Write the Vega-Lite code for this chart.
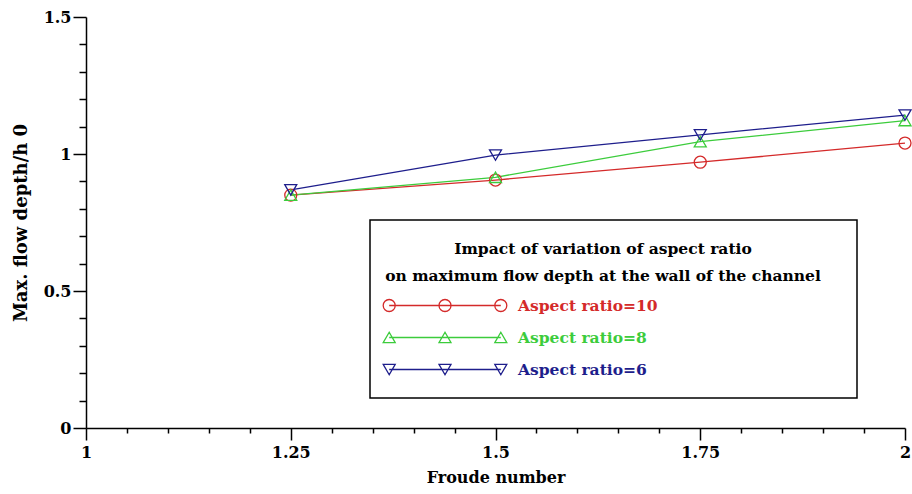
{
  "$schema": "https://vega.github.io/schema/vega-lite/v6.json",
  "width": 819,
  "height": 411,
  "autosize": {"type": "none"},
  "padding": {"left": 86, "top": 17, "right": 7, "bottom": 66},
  "background": "white",
  "config": {
    "font": "DejaVu Serif",
    "view": {"stroke": null},
    "axis": {
      "grid": false,
      "domainColor": "black",
      "domainWidth": 1.5,
      "tickColor": "black",
      "tickWidth": 1.5,
      "labelFont": "DejaVu Serif",
      "labelFontWeight": "bold",
      "labelFontSize": 16,
      "labelColor": "black",
      "titleFont": "DejaVu Serif",
      "titleFontWeight": "bold",
      "titleColor": "black"
    }
  },
  "data": {
    "values": [
      {"series": "Aspect ratio=10", "froude": 1.25, "depth": 0.85},
      {"series": "Aspect ratio=10", "froude": 1.5, "depth": 0.905},
      {"series": "Aspect ratio=10", "froude": 1.75, "depth": 0.97},
      {"series": "Aspect ratio=10", "froude": 2.0, "depth": 1.04},
      {"series": "Aspect ratio=8", "froude": 1.25, "depth": 0.85},
      {"series": "Aspect ratio=8", "froude": 1.5, "depth": 0.915},
      {"series": "Aspect ratio=8", "froude": 1.75, "depth": 1.045},
      {"series": "Aspect ratio=8", "froude": 2.0, "depth": 1.122},
      {"series": "Aspect ratio=6", "froude": 1.25, "depth": 0.869},
      {"series": "Aspect ratio=6", "froude": 1.5, "depth": 0.996},
      {"series": "Aspect ratio=6", "froude": 1.75, "depth": 1.07},
      {"series": "Aspect ratio=6", "froude": 2.0, "depth": 1.142}
    ]
  },
  "encoding": {
    "x": {
      "field": "froude",
      "type": "quantitative",
      "scale": {"domain": [1, 2], "nice": false, "zero": false},
      "axis": {
        "title": "Froude number",
        "titleFontSize": 16,
        "titlePadding": 9,
        "values": [1, 1.05, 1.1, 1.15, 1.2, 1.25, 1.3, 1.35, 1.4, 1.45, 1.5, 1.55, 1.6, 1.65, 1.7, 1.75, 1.8, 1.85, 1.9, 1.95, 2],
        "labelExpr": "abs(datum.value*4 - round(datum.value*4)) < 0.001 ? format(datum.value, '~g') : ''",
        "tickSize": {"condition": {"test": "abs(datum.value*4 - round(datum.value*4)) < 0.001", "value": 12}, "value": 5},
        "labelPadding": 4,
        "labelFlush": false,
        "labelOverlap": false
      }
    },
    "y": {
      "field": "depth",
      "type": "quantitative",
      "scale": {"domain": [0, 1.5], "nice": false, "zero": false},
      "axis": {
        "title": "Max. flow depth/h 0",
        "titleFontSize": 18,
        "titlePadding": 13,
        "values": [0, 0.1, 0.2, 0.3, 0.4, 0.5, 0.6, 0.7, 0.8, 0.9, 1, 1.1, 1.2, 1.3, 1.4, 1.5],
        "labelExpr": "abs(datum.value*2 - round(datum.value*2)) < 0.001 ? format(datum.value, '~g') : ''",
        "tickSize": {"condition": {"test": "abs(datum.value*2 - round(datum.value*2)) < 0.001", "value": 13}, "value": 7},
        "labelPadding": 2,
        "labelFlush": false,
        "labelOverlap": false
      }
    },
    "color": {
      "field": "series",
      "type": "nominal",
      "scale": {
        "domain": ["Aspect ratio=10", "Aspect ratio=8", "Aspect ratio=6"],
        "range": ["#d42a2a", "#3ccc3c", "#1e1e8c"]
      },
      "legend": {
        "orient": "none",
        "legendX": 284,
        "legendY": 203,
        "title": ["Impact of variation of aspect ratio", "on maximum flow depth at the wall of the channel"],
        "titleFont": "DejaVu Serif",
        "titleFontWeight": "bold",
        "titleFontSize": 15.5,
        "titleColor": "black",
        "titleAlign": "center",
        "titleAnchor": "middle",
        "titleLineHeight": 27,
        "titlePadding": 15,
        "titleLimit": 800,
        "strokeColor": "black",
        "fillColor": "white",
        "padding": 12,
        "cornerRadius": 0,
        "clipHeight": 32,
        "rowPadding": 0,
        "labelFont": "DejaVu Serif",
        "labelFontWeight": "bold",
        "labelFontSize": 15.5,
        "labelOffset": 10,
        "labelLimit": 400,
        "symbolSize": 15376,
        "symbolStrokeWidth": 1.3,
        "encode": {
          "legend": {"update": {"strokeWidth": {"value": 1.5}}},
          "title": {"update": {"dx": {"value": -11}, "dy": {"value": 10}}},
          "entries": {"update": {"width": {"value": 463}}},
          "symbols": {
            "update": {
              "fill": {"value": "transparent"},
              "stroke": {"scale": "color", "field": "value"},
              "shape": {"signal": "datum.value === 'Aspect ratio=10' ? 'M -0.9,0 L 0.9,0 M -0.997,0 A 0.097,0.097 0 1,0 -0.803,0 A 0.097,0.097 0 1,0 -0.997,0 Z M -0.097,0 A 0.097,0.097 0 1,0 0.097,0 A 0.097,0.097 0 1,0 -0.097,0 Z M 0.803,0 A 0.097,0.097 0 1,0 0.997,0 A 0.097,0.097 0 1,0 0.803,0 Z' : datum.value === 'Aspect ratio=8' ? 'M -0.9,0 L 0.9,0 M -0.9,-0.084 L -0.997,0.084 L -0.803,0.084 Z M 0,-0.084 L -0.097,0.084 L 0.097,0.084 Z M 0.9,-0.084 L 0.803,0.084 L 0.997,0.084 Z' : 'M -0.9,0 L 0.9,0 M -0.9,0.084 L -0.997,-0.084 L -0.803,-0.084 Z M 0,0.084 L -0.097,-0.084 L 0.097,-0.084 Z M 0.9,0.084 L 0.803,-0.084 L 0.997,-0.084 Z'"}
            }
          },
          "labels": {
            "update": {"fill": {"scale": "color", "field": "value"}}
          }
        }
      }
    }
  },
  "layer": [
    {
      "mark": {"type": "line", "strokeWidth": 1.3}
    },
    {
      "transform": [{"filter": "datum.series === 'Aspect ratio=10'"}],
      "mark": {"type": "point", "shape": "circle", "filled": false, "size": 144, "strokeWidth": 1.3, "opacity": 1}
    },
    {
      "transform": [{"filter": "datum.series === 'Aspect ratio=8'"}],
      "mark": {"type": "point", "shape": "triangle-up", "filled": false, "size": 144, "strokeWidth": 1.3, "opacity": 1}
    },
    {
      "transform": [{"filter": "datum.series === 'Aspect ratio=6'"}],
      "mark": {"type": "point", "shape": "triangle-down", "filled": false, "size": 144, "strokeWidth": 1.3, "opacity": 1}
    }
  ]
}
